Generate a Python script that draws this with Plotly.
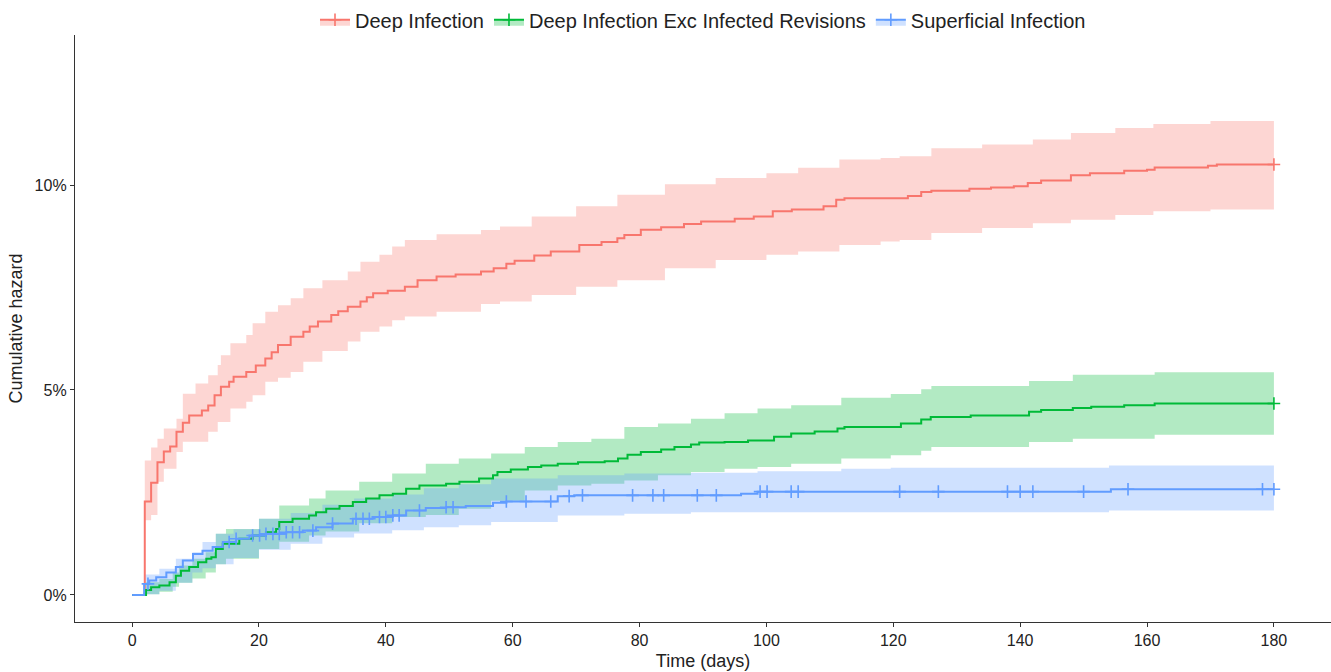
import numpy as np
import plotly.graph_objects as go

# ---------------- data (cumulative hazard, %) ----------------
deep_t = [0, 2, 3, 4, 5, 6, 7, 8, 9, 11, 12, 13, 14, 15.3, 16, 18, 19.5, 21, 22, 23,
          25, 27, 28, 29.3, 31.4, 32.5, 34, 36, 37, 38, 40.3, 43, 45, 48, 51, 55, 57, 59,
          60.3, 63.4, 66, 70.5, 74, 76.5, 77.6, 80.2, 83.4, 87, 89.7, 95, 98, 101, 104,
          109, 111, 112.3, 122.3, 124.4, 126, 132, 135.4, 139, 141.2, 143.3, 148, 151,
          156.4, 160, 161.2, 169.6, 171, 180]
deep_v = [0, 2.28, 2.74, 3.24, 3.50, 3.62, 3.98, 4.20, 4.38, 4.50, 4.62, 4.87, 5.08, 5.20,
          5.32, 5.44, 5.60, 5.77, 5.92, 6.10, 6.30, 6.42, 6.55, 6.67, 6.83, 6.92, 7.03, 7.16,
          7.26, 7.36, 7.42, 7.52, 7.68, 7.77, 7.82, 7.89, 7.97, 8.08, 8.15, 8.28, 8.38, 8.54,
          8.61, 8.70, 8.78, 8.91, 8.97, 9.05, 9.11, 9.18, 9.23, 9.36, 9.40, 9.48, 9.64, 9.68,
          9.73, 9.83, 9.86, 9.91, 9.94, 9.97, 10.05, 10.11, 10.24, 10.29, 10.35, 10.37, 10.43,
          10.47, 10.50, 10.50]
deep_band_t = [0, 2, 3, 4, 5, 7, 8, 10, 12, 13.5, 14, 15.5, 18, 19, 21, 23, 25, 27, 30, 34,
               36, 39, 41, 43, 48, 55, 58, 63, 70, 76.5, 84, 92, 100, 105, 111.5, 118, 121,
               126, 134, 142, 148, 155, 161, 170, 180]
deep_upper = [0, 3.28, 3.60, 3.81, 4.06, 4.30, 4.91, 5.16, 5.36, 5.61, 5.85, 6.14, 6.34, 6.63,
              6.91, 7.07, 7.24, 7.48, 7.68, 7.89, 8.13, 8.30, 8.50, 8.66, 8.80, 8.90, 8.99,
              9.23, 9.48, 9.76, 10.02, 10.17, 10.29, 10.42, 10.62, 10.66, 10.70, 10.90, 10.99,
              11.11, 11.27, 11.39, 11.49, 11.56, 11.57]
deep_lower = [0, 1.82, 1.95, 2.76, 3.08, 3.49, 3.74, 3.74, 3.98, 4.22, 4.22, 4.55, 4.71, 4.87,
              5.20, 5.30, 5.44, 5.69, 5.95, 6.18, 6.42, 6.55, 6.70, 6.79, 6.91, 7.10, 7.16,
              7.32, 7.52, 7.68, 7.97, 8.17, 8.30, 8.38, 8.54, 8.62, 8.66, 8.83, 8.95, 9.07,
              9.15, 9.27, 9.36, 9.40, 9.42]
deep_censor = [180]

exc_t = [0, 2.2, 3, 4.3, 5.9, 6.9, 7.7, 9, 10.4, 11.7, 12.5, 13.2, 14.3, 16.9, 19, 21.1,
         22.7, 23.2, 25.3, 27.9, 29, 30.6, 32.7, 34.8, 36.9, 39, 41.1, 43.2, 45.3, 49.5,
         51.6, 54.7, 56.9, 57.6, 59.7, 62.4, 64.5, 67.1, 70.3, 74.5, 76.6, 78.1, 80.2, 83.4,
         85.5, 88.1, 89.4, 93.4, 97.1, 101.2, 103.9, 107.6, 111.2, 112.3, 121.2, 124.4,
         125.9, 132.2, 141.4, 143.3, 148.3, 151.2, 156.4, 161.2, 180]
exc_v = [0, 0.12, 0.19, 0.23, 0.31, 0.47, 0.59, 0.68, 0.80, 0.88, 0.92, 1.12, 1.25, 1.37,
         1.45, 1.53, 1.61, 1.78, 1.86, 1.94, 2.02, 2.10, 2.17, 2.27, 2.35, 2.43, 2.47, 2.59,
         2.67, 2.71, 2.76, 2.84, 2.92, 3.00, 3.06, 3.12, 3.16, 3.20, 3.24, 3.26, 3.33, 3.42,
         3.49, 3.55, 3.61, 3.67, 3.72, 3.73, 3.77, 3.86, 3.94, 3.99, 4.06, 4.10, 4.18, 4.28,
         4.34, 4.38, 4.47, 4.51, 4.56, 4.59, 4.63, 4.67, 4.67]
exc_band_t = [0, 2.2, 4.3, 6.4, 7.4, 9.5, 11.6, 13.2, 14.8, 20, 23.2, 27.9, 30.5, 35.8, 41,
              46.3, 51.5, 56.6, 61.9, 67.1, 72.4, 77.6, 82.9, 88.1, 93.4, 98.6, 103.9,
              111.8, 119.6, 124.4, 126, 141.4, 148.3, 161.2, 180]
exc_upper = [0, 0.31, 0.39, 0.55, 0.72, 0.88, 1.04, 1.49, 1.61, 1.86, 2.18, 2.35, 2.55, 2.76,
             2.96, 3.20, 3.33, 3.45, 3.61, 3.73, 3.81, 4.10, 4.18, 4.30, 4.43, 4.55, 4.63,
             4.81, 4.90, 5.02, 5.10, 5.22, 5.37, 5.43, 5.43]
exc_lower = [0, 0.02, 0.08, 0.20, 0.30, 0.40, 0.55, 0.75, 0.88, 1.12, 1.30, 1.45, 1.55, 1.75,
             1.90, 1.95, 2.10, 2.30, 2.55, 2.67, 2.71, 2.79, 2.92, 3.00, 3.08, 3.12, 3.20,
             3.33, 3.41, 3.52, 3.61, 3.73, 3.81, 3.91, 3.91]
exc_censor = [180]

sup_t = [0, 1.9, 2.7, 3.8, 5.4, 6.9, 8.0, 9.6, 11.1, 12.7, 14.3, 16.4, 18.5, 21.1, 24.3,
         26.9, 29.0, 31.6, 34.8, 37.9, 41.1, 43.2, 46.3, 49.5, 52.6, 56.9, 59.0, 67.1, 69.7,
         96.0, 98.6, 154.3, 180]
sup_v = [0, 0.27, 0.35, 0.43, 0.55, 0.68, 0.84, 1.00, 1.08, 1.17, 1.29, 1.37, 1.45, 1.49,
         1.53, 1.57, 1.65, 1.74, 1.86, 1.90, 1.94, 2.06, 2.12, 2.14, 2.17, 2.25, 2.28, 2.41,
         2.43, 2.47, 2.52, 2.58, 2.58]
sup_band_t = [0, 1.9, 4.3, 6.9, 9.5, 11.1, 13.2, 16, 20, 25, 30, 35, 41, 46, 51.5, 56.6,
              67.1, 77.6, 88.1, 98.6, 111.8, 119.6, 154, 180]
sup_upper = [0, 0.50, 0.64, 0.88, 1.04, 1.29, 1.49, 1.60, 1.86, 2.00, 2.20, 2.35, 2.45, 2.60,
             2.70, 2.84, 2.92, 2.96, 2.98, 3.02, 3.08, 3.10, 3.16, 3.16]
sup_lower = [0, 0.02, 0.10, 0.30, 0.55, 0.65, 0.75, 0.90, 1.10, 1.25, 1.40, 1.50, 1.58, 1.65,
             1.70, 1.78, 1.94, 1.98, 2.02, 2.02, 2.02, 2.02, 2.06, 2.10]
sup_censor = [2.5, 15.3, 16.4, 19.0, 20.1, 21.1, 22.2, 23.2, 24.3, 25.3, 26.4, 28.5, 31.6,
              35.3, 36.4, 37.4, 39.0, 40.0, 41.1, 42.1, 45.3, 49.5, 50.6, 59.0, 62.1, 66.0,
              68.9, 71.0, 78.9, 82.1, 83.8, 89.1, 92.1, 99.0, 100.1, 103.9, 105.0, 121.0,
              127.1, 138.0, 140.0, 142.0, 150.0, 157.0, 178.2, 180]

series_names = ["Deep Infection", "Deep Infection Exc Infected Revisions", "Superficial Infection"]
series_colors = ["#F8766D", "#00BA38", "#619CFF"]
band_fills = ["rgba(248,118,109,0.3)", "rgba(0,186,56,0.3)", "rgba(97,156,255,0.3)"]

x_ticks = [0, 20, 40, 60, 80, 100, 120, 140, 160, 180]
y_ticks = [0, 0.05, 0.10]
y_tick_labels = ["0%", "5%", "10%"]

series = [
    (deep_t, deep_v, deep_band_t, deep_lower, deep_upper, deep_censor),
    (exc_t, exc_v, exc_band_t, exc_lower, exc_upper, exc_censor),
    (sup_t, sup_v, sup_band_t, sup_lower, sup_upper, sup_censor),
]

FONT = "Liberation Sans, Arial, sans-serif"
fig = go.Figure()

# confidence bands
for (t, v, bt, lo, up, cz), name, col, fc in zip(series, series_names, series_colors, band_fills):
    bt = np.array(bt, float)
    fig.add_trace(go.Scatter(x=bt, y=np.array(lo) / 100, mode="lines", line=dict(width=0, shape="hv"),
                             showlegend=False, hoverinfo="skip"))
    fig.add_trace(go.Scatter(x=bt, y=np.array(up) / 100, mode="lines", line=dict(width=0, shape="hv"),
                             fill="tonexty", fillcolor=fc, showlegend=False, hoverinfo="skip"))

# step lines
for (t, v, bt, lo, up, cz), name, col in zip(series, series_names, series_colors):
    fig.add_trace(go.Scatter(x=t, y=np.array(v) / 100, mode="lines", line=dict(color=col, width=2, shape="hv"),
                             showlegend=False, name=name))

# censor marks
for (t, v, bt, lo, up, cz), name, col in zip(series, series_names, series_colors):
    ta = np.array(t, float)
    va = np.array(v, float) / 100
    idx = np.searchsorted(ta, np.array(cz, float), side="right") - 1
    fig.add_trace(go.Scatter(x=cz, y=va[idx], mode="markers",
                             marker=dict(symbol="cross-thin", size=9, line=dict(color=col, width=1.6)),
                             showlegend=False, hoverinfo="skip"))

# legend entries
for name, col, fc in zip(series_names, series_colors, band_fills):
    fig.add_trace(go.Scatter(x=[None], y=[None], mode="lines+markers", name=name,
                             fill="toself", fillcolor=fc,
                             line=dict(color=col, width=2),
                             marker=dict(symbol="cross-thin", size=9, line=dict(color=col, width=1.6))))

fig.update_layout(
    width=1331, height=672,
    paper_bgcolor="white", plot_bgcolor="white",
    margin=dict(l=75, r=0, t=35, b=50),
    font=dict(family=FONT, size=16, color="#222"),
    legend=dict(orientation="h", x=0.5, xanchor="center", y=1.026, yanchor="middle",
                traceorder="normal",
                font=dict(size=20, color="#222"), itemwidth=30, tracegroupgap=0,
                bgcolor="rgba(0,0,0,0)"),
    xaxis=dict(range=[-9, 189], tickvals=x_ticks, showgrid=False, zeroline=False, automargin=False,
               showline=True, linecolor="#333", linewidth=1.3, ticks="outside", ticklen=4,
               tickcolor="#333", tickfont=dict(size=16, color="#222"),
               title=dict(text="Time (days)", font=dict(size=18, color="#222"), standoff=6)),
    yaxis=dict(range=[-0.0066, 0.1366], tickvals=y_ticks, ticktext=y_tick_labels, automargin=False,
               showgrid=False, zeroline=False,
               showline=True, linecolor="#333", linewidth=1.3, ticks="outside", ticklen=4,
               tickcolor="#333", tickfont=dict(size=16, color="#222"),
               title=dict(text="Cumulative hazard", font=dict(size=18, color="#222"), standoff=7)),
)

fig.write_html("out.html", config={"displayModeBar": False},
               post_script="document.body.style.margin='0px';document.body.style.overflow='hidden';")
